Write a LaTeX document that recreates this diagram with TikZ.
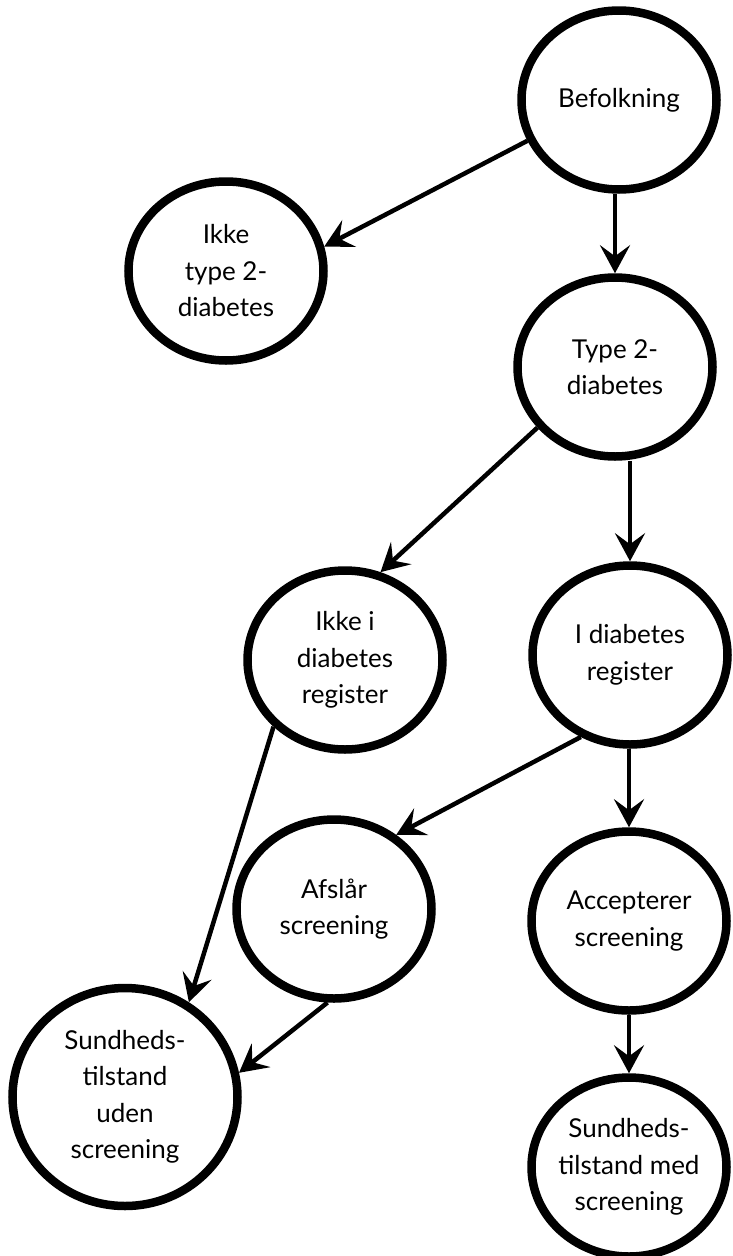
\documentclass[tikz,border=0pt]{standalone}
\usepackage{fontspec}
\setmainfont{Lato}
\usetikzlibrary{positioning,shapes,arrows.meta}
\tikzset{state/.style={draw,ellipse,line width=8.5pt,inner sep=-12pt,align=center,
  minimum width=195pt,minimum height=179pt,font=\fontsize{26}{36.5}\selectfont},
  arr/.style={line width=4.5pt,-{Stealth[length=28pt,width=30pt,inset=11pt]}}}

\begin{document}
\begin{tikzpicture}[x=1pt,y=-1pt]
\useasboundingbox (0,0) rectangle (732,1256);
\node[state] (bef) at (619,100) {Befolkning};
\node[state] (ikke2) at (226,271) {Ikke\\type 2-\\diabetes};
\node[state] (type2) at (615,367) {Type 2-\\diabetes};
\node[state] (ikkei) at (345,660) {Ikke i\\diabetes\\register};
\node[state] (ireg) at (630,655) {I diabetes\\register};
\node[state] (afslaar) at (334,909) {Afslår\\screening};
\node[state] (accept) at (629,921) {Accepterer\\screening};
\node[state,minimum width=225pt,minimum height=218pt] (sundu) at (125,1097) {Sundheds-\\tilstand\\uden\\screening};
\node[state] (sundm) at (629,1167) {Sundheds-\\tilstand med\\screening};

\draw[arr] (bef.204) -- (ikke2.14);
\draw[arr] (type2.north |- bef.south) -- (type2.north);
\draw[arr] (type2.218) -- (ikkei.68);
\draw[arr] (ireg.north |- type2.south) -- (ireg.north);
\draw[arr] (ikkei.223) -- (sundu.56);
\draw[arr] (ireg.239) -- (afslaar.50);
\draw[arr] (accept.north |- ireg.south) -- (accept.north);
\draw[arr] (afslaar.266) -- (sundu.12);
\draw[arr] (sundm.north |- accept.south) -- (sundm.north);
\end{tikzpicture}
\end{document}
